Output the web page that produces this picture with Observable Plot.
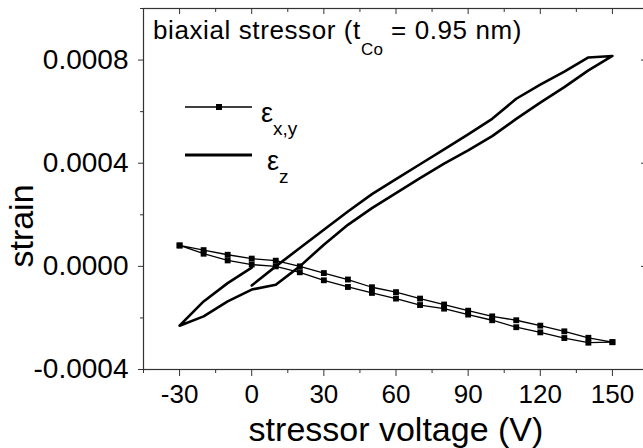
<!DOCTYPE html>
<html><head><meta charset="utf-8">
<script src="https://cdn.jsdelivr.net/npm/d3@7"></script>
<script src="https://cdn.jsdelivr.net/npm/@observablehq/plot@0.6"></script>
<style>
body{margin:0;background:#fff}
svg{font-family:"Liberation Sans",Arial,Helvetica,sans-serif}
</style>
</head><body><div id="chart"></div>
<script>
// ---- data ----
const voltage = [-30,-20,-10,0,10,20,30,40,50,60,70,80,90,100,110,120,130,140,150];
// in-plane strain eps_x,y : two sweep branches
const exyLower = [0.000081,0.000049,0.000023,0.000007,0.000000,-0.000023,-0.000054,-0.000080,-0.000103,-0.000125,-0.000150,-0.000164,-0.000187,-0.000209,-0.000236,-0.000256,-0.000278,-0.000296,-0.000294];
const exyUpper = [0.000081,0.000063,0.000045,0.000030,0.000022,0.000000,-0.000026,-0.000051,-0.000081,-0.000100,-0.000125,-0.000148,-0.000172,-0.000194,-0.000209,-0.000230,-0.000252,-0.000277,-0.000294];
// out-of-plane strain eps_z : sweep 0 -> -30 -> 150 -> 0
const zStartV = [0,-10,-20];
const zStart  = [-0.000005,-0.000065,-0.000136];
const zLower  = [-0.000230,-0.000194,-0.000136,-0.000090,-0.000071,0.000000,0.000084,0.000161,0.000226,0.000284,0.000342,0.000398,0.000450,0.000505,0.000572,0.000635,0.000695,0.000760,0.000816];
const zReturnV = [140,130,120,110,100,90,80,70,60,50,40,30,20,10,0];
const zReturn  = [0.000810,0.000755,0.000705,0.000650,0.000572,0.000512,0.000454,0.000396,0.000338,0.000280,0.000213,0.000142,0.000071,0.000000,-0.000074];

const xTicks = [-30,0,30,60,90,120,150];
const xMinor = [-45,-15,15,45,75,105,135,165];
const yTicks = [-0.0004,0,0.0004,0.0008];
const yMinor = [-0.0002,0.0002,0.0006,0.001];

const titleMain = "biaxial stressor (t";
const titleSub = "Co";
const titleEnd = " = 0.95 nm)";
const xLabel = "stressor voltage (V)";
const yLabel = "strain";
const legendItems = [
  {sym:"ε", sub:"x,y", marker:true, sw:1.3},
  {sym:"ε", sub:"z", marker:false, sw:3}
];

// ---- tables ----
const xyRows = [
  ...voltage.map((v,i)=>({v, s:exyLower[i]})),
  ...voltage.map((v,i)=>({v, s:exyUpper[i]})).reverse()
];
const zRows = [
  ...zStartV.map((v,i)=>({v, s:zStart[i]})),
  ...voltage.map((v,i)=>({v, s:zLower[i]})),
  ...zReturnV.map((v,i)=>({v, s:zReturn[i]}))
];

const plot = Plot.plot({
  width: 643, height: 448,
  marginLeft: 143, marginRight: -5, marginTop: 8, marginBottom: 79,
  style: {fontFamily:'"Liberation Sans",Arial,sans-serif', fontSize:"26px", color:"#000", background:"#fff"},
  x: {domain: [-45, 165]},
  y: {domain: [-0.0004, 0.001]},
  marks: [
    Plot.frame({stroke:"#333", strokeWidth:1.2}),
    Plot.axisX({ticks:xTicks, tickSize:7, tickPadding:8, tickFormat:d=>String(d), fontSize:26, label:null, stroke:"#333"}),
    Plot.axisX({ticks:xMinor, tickSize:4, text:null, label:null, stroke:"#333"}),
    Plot.axisX({anchor:"top", ticks:xTicks, tickSize:-5, text:null, label:null, stroke:"#333"}),
    Plot.axisX({anchor:"top", ticks:xMinor, tickSize:-3, text:null, label:null, stroke:"#333"}),
    Plot.axisY({ticks:yTicks, tickSize:5, tickPadding:10, tickFormat:d=>d.toFixed(4), fontSize:28, label:null, stroke:"#333"}),
    Plot.axisY({ticks:yMinor, tickSize:3, text:null, label:null, stroke:"#333"}),
    Plot.axisY({anchor:"right", ticks:yTicks, tickSize:-8, text:null, label:null, stroke:"#333"}),
    Plot.line(xyRows, {x:"v", y:"s", stroke:"#000", strokeWidth:1.3}),
    Plot.dot(xyRows, {x:"v", y:"s", symbol:"square", r:3.3, fill:"#000", stroke:null}),
    Plot.line(zRows, {x:"v", y:"s", stroke:"#000", strokeWidth:2.6, strokeLinejoin:"round"})
  ]
});

document.getElementById("chart").appendChild(plot);

// ---- title, axis labels and legend annotations ----
const svg = d3.select(plot);
const ann = svg.append("g").attr("fill","#000").attr("text-anchor","start")
  .attr("font-family",'"Liberation Sans",Arial,sans-serif');

ann.append("text").attr("text-anchor","middle").attr("x",396).attr("y",441)
  .attr("font-size",34).text(xLabel);
ann.append("text").attr("text-anchor","middle").attr("transform","translate(33,226) rotate(-90)")
  .attr("font-size",34).text(yLabel);

const t = ann.append("text").attr("x",153).attr("y",39).attr("font-size",26).attr("letter-spacing",0.6);
t.append("tspan").text(titleMain);
t.append("tspan").attr("dy",16).attr("font-size",17).attr("letter-spacing",0.3).text(titleSub);
t.append("tspan").attr("dy",-16).text(titleEnd);

const legY = [107, 155];
legendItems.forEach((it,i)=>{
  const y = legY[i];
  ann.append("line").attr("x1",185).attr("x2",252).attr("y1",y).attr("y2",y)
     .attr("stroke","#000").attr("stroke-width",it.sw);
  if (it.marker) ann.append("rect").attr("x",216).attr("y",y-3).attr("width",6).attr("height",6).attr("fill","#000");
  const lt = ann.append("text").attr("x", it.marker ? 261 : 267).attr("y", y+15).attr("font-size",27);
  lt.append("tspan").text(it.sym);
  lt.append("tspan").attr("dy",13).attr("font-size",19).text(it.sub);
});
</script>
</body></html>
